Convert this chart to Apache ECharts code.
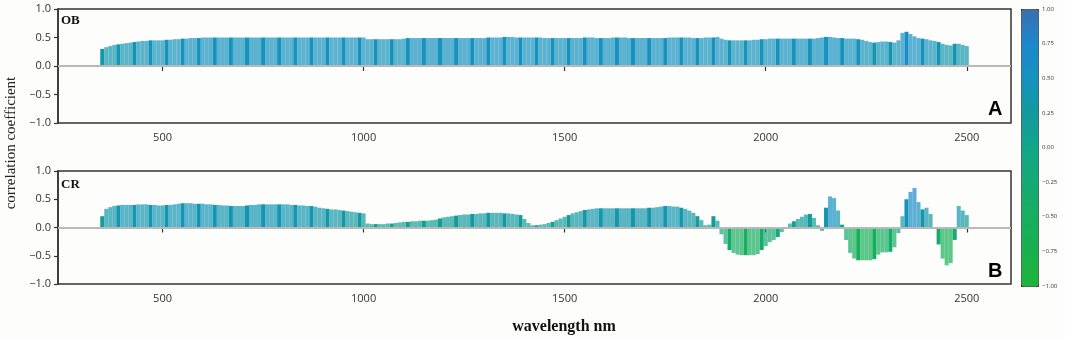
<!DOCTYPE html>
<html>
<head>
<meta charset="utf-8">
<script src="https://cdn.jsdelivr.net/npm/echarts@6/dist/echarts.min.js"></script>
<style>
  html, body { margin: 0; padding: 0; background: #fdfdfb; }
  #chart { width: 1065px; height: 340px; }
</style>
</head>
<body>
<div id="chart"></div>
<script>
// wavelength grid, 350 - 2500 nm every 10 nm
const wavelengths = []
for (let w = 350; w <= 2500; w += 10) wavelengths.push(w)

// original reflectance (OB)
const obValues = [
  0.30, 0.33, 0.35, 0.37, 0.38, 0.39, 0.40, 0.41, 0.42, 0.43, // 350
  0.44, 0.44, 0.45, 0.45, 0.45, 0.45, 0.46, 0.46, 0.47, 0.47, // 450
  0.48, 0.48, 0.49, 0.49, 0.49, 0.50, 0.50, 0.50, 0.50, 0.50, // 550
  0.50, 0.50, 0.50, 0.50, 0.50, 0.50, 0.50, 0.50, 0.50, 0.50, // 650
  0.50, 0.50, 0.50, 0.50, 0.50, 0.50, 0.50, 0.50, 0.50, 0.50, // 750
  0.50, 0.50, 0.50, 0.50, 0.50, 0.50, 0.50, 0.50, 0.50, 0.50, // 850
  0.50, 0.50, 0.50, 0.50, 0.50, 0.50, 0.47, 0.47, 0.47, 0.47, // 950
  0.47, 0.47, 0.47, 0.47, 0.47, 0.48, 0.49, 0.49, 0.49, 0.49, // 1050
  0.49, 0.49, 0.49, 0.49, 0.49, 0.49, 0.49, 0.49, 0.49, 0.49, // 1150
  0.49, 0.49, 0.49, 0.49, 0.49, 0.49, 0.50, 0.50, 0.50, 0.50, // 1250
  0.51, 0.51, 0.51, 0.50, 0.50, 0.50, 0.50, 0.50, 0.50, 0.50, // 1350
  0.49, 0.49, 0.49, 0.49, 0.49, 0.49, 0.49, 0.49, 0.49, 0.49, // 1450
  0.50, 0.50, 0.50, 0.49, 0.49, 0.49, 0.49, 0.50, 0.50, 0.50, // 1550
  0.50, 0.49, 0.49, 0.49, 0.49, 0.49, 0.49, 0.49, 0.49, 0.49, // 1650
  0.49, 0.50, 0.50, 0.50, 0.50, 0.50, 0.50, 0.49, 0.49, 0.49, // 1750
  0.50, 0.50, 0.50, 0.51, 0.48, 0.46, 0.45, 0.45, 0.45, 0.45, // 1850
  0.45, 0.45, 0.46, 0.46, 0.47, 0.47, 0.48, 0.48, 0.48, 0.48, // 1950
  0.48, 0.48, 0.48, 0.48, 0.48, 0.48, 0.48, 0.48, 0.49, 0.50, // 2050
  0.51, 0.51, 0.50, 0.49, 0.49, 0.48, 0.48, 0.48, 0.47, 0.46, // 2150
  0.44, 0.42, 0.41, 0.42, 0.43, 0.43, 0.42, 0.41, 0.45, 0.58, // 2250
  0.60, 0.56, 0.52, 0.49, 0.48, 0.47, 0.45, 0.44, 0.42, 0.39, // 2350
  0.37, 0.36, 0.39, 0.39, 0.37, 0.35                          // 2450
]

// continuum removed (CR)
const crValues = [
  0.20, 0.33, 0.36, 0.38, 0.39, 0.40, 0.40, 0.40, 0.40, 0.41, // 350
  0.41, 0.41, 0.40, 0.40, 0.39, 0.39, 0.40, 0.40, 0.41, 0.42, // 450
  0.43, 0.43, 0.43, 0.42, 0.42, 0.42, 0.41, 0.41, 0.40, 0.40, // 550
  0.39, 0.39, 0.38, 0.38, 0.38, 0.38, 0.39, 0.40, 0.40, 0.41, // 650
  0.41, 0.41, 0.41, 0.41, 0.41, 0.41, 0.41, 0.40, 0.40, 0.39, // 750
  0.39, 0.38, 0.38, 0.37, 0.35, 0.34, 0.33, 0.32, 0.32, 0.31, // 850
  0.30, 0.29, 0.28, 0.27, 0.26, 0.25, 0.07, 0.06, 0.06, 0.06, // 950
  0.06, 0.07, 0.07, 0.08, 0.09, 0.10, 0.10, 0.11, 0.11, 0.12, // 1050
  0.12, 0.12, 0.13, 0.14, 0.16, 0.18, 0.19, 0.20, 0.21, 0.22, // 1150
  0.23, 0.23, 0.24, 0.24, 0.25, 0.25, 0.26, 0.26, 0.26, 0.26, // 1250
  0.25, 0.25, 0.24, 0.23, 0.22, 0.15, 0.08, 0.04, 0.04, 0.05, // 1350
  0.06, 0.08, 0.10, 0.13, 0.16, 0.19, 0.22, 0.25, 0.27, 0.29, // 1450
  0.31, 0.32, 0.33, 0.34, 0.34, 0.34, 0.34, 0.34, 0.34, 0.34, // 1550
  0.34, 0.34, 0.34, 0.34, 0.34, 0.34, 0.35, 0.35, 0.36, 0.37, // 1650
  0.38, 0.38, 0.37, 0.37, 0.35, 0.33, 0.30, 0.26, 0.20, 0.13, // 1750
  0.04, 0.05, 0.20, 0.12, -0.12, -0.29, -0.40, -0.45, -0.48, -0.49, // 1850
  -0.49, -0.49, -0.49, -0.47, -0.40, -0.33, -0.26, -0.22, -0.17, -0.08, // 1950
  0.00, 0.07, 0.11, 0.15, 0.19, 0.23, 0.24, 0.17, 0.04, -0.06, // 2050
  0.35, 0.55, 0.52, 0.30, 0.05, -0.22, -0.45, -0.55, -0.58, -0.58, // 2150
  -0.58, -0.58, -0.56, -0.48, -0.44, -0.44, -0.43, -0.35, -0.10, 0.20, // 2250
  0.50, 0.63, 0.70, 0.45, 0.32, 0.35, 0.24, -0.02, -0.30, -0.55, // 2350
  -0.67, -0.63, -0.22, 0.38, 0.30, 0.22                        // 2450
]

const xTicks = [500, 1000, 1500, 2000, 2500]

const minus = s => s.replace('-', '\u2212')

// every 4th bar is drawn solid, the rest lighter, like the striped original
function toBars(values) {
  return values.map((v, i) => ({
    value: [wavelengths[i], v],
    itemStyle: { opacity: i % 4 === 0 ? 1 : 0.7 }
  }))
}

const chart = echarts.init(document.getElementById('chart'))

const tickFont = { fontFamily: 'Open Sans', fontSize: 11, color: '#333' }

function xAxisFor(gridIndex) {
  return {
    type: 'value',
    gridIndex: gridIndex,
    min: 240,
    max: 2610,
    axisLine: { show: true, lineStyle: { color: '#333', width: 1.5 } },
    axisTick: { show: true, length: 5, customValues: xTicks, lineStyle: { color: '#333', width: 1.2 } },
    axisLabel: Object.assign({ customValues: xTicks, margin: 9, formatter: v => String(v) }, tickFont),
    splitLine: { show: false }
  }
}

function yAxisFor(gridIndex) {
  return {
    type: 'value',
    gridIndex: gridIndex,
    min: -1,
    max: 1,
    interval: 0.5,
    axisLine: { show: true, lineStyle: { color: '#333', width: 1.5 } },
    axisTick: { show: true, length: 4, lineStyle: { color: '#333', width: 1.2 } },
    axisLabel: Object.assign({ margin: 7, formatter: v => minus(v.toFixed(1)) }, tickFont),
    splitLine: { show: false }
  }
}

function barSeries(name, values, axisIndex) {
  return {
    name: name,
    type: 'bar',
    xAxisIndex: axisIndex,
    yAxisIndex: axisIndex,
    barWidth: 4,
    data: toBars(values),
    animation: false,
    markLine: {
      silent: true,
      symbol: 'none',
      label: { show: false },
      lineStyle: { color: '#b9b9b9', width: 2, type: 'solid' },
      data: [{ yAxis: 0 }]
    }
  }
}

chart.setOption({
  backgroundColor: '#fdfdfb',
  grid: [
    { left: 58, top: 9, width: 953, height: 114, show: true, borderColor: '#333', borderWidth: 1.5 },
    { left: 58, top: 171, width: 953, height: 113, show: true, borderColor: '#333', borderWidth: 1.5 },
    // holds the colour bar scale
    { left: 1021, top: 9, width: 17, height: 277, show: false }
  ],
  xAxis: [
    xAxisFor(0),
    xAxisFor(1),
    { type: 'value', gridIndex: 2, show: false, min: 0, max: 1 }
  ],
  yAxis: [
    yAxisFor(0),
    yAxisFor(1),
    {
      type: 'value',
      gridIndex: 2,
      position: 'right',
      min: -1,
      max: 1,
      interval: 0.25,
      axisLine: { show: false },
      axisTick: { show: true, length: 3, lineStyle: { color: '#333' } },
      axisLabel: {
        fontFamily: 'Open Sans', fontSize: 6, color: '#333', margin: 4,
        formatter: v => minus(v.toFixed(2))
      },
      splitLine: { show: false }
    }
  ],
  visualMap: {
    type: 'continuous',
    seriesIndex: [0, 1],
    dimension: 1,
    min: -1,
    max: 1,
    left: 1021,
    top: 9,
    itemWidth: 17,
    itemHeight: 277,
    padding: 0,
    borderColor: '#333',
    borderWidth: 1,
    calculable: false,
    text: ['', ''],
    inRange: {
      color: ['#1db33a', '#19b04d', '#17ae60', '#15aa74', '#12a68a', '#13999f', '#1592bf', '#1c88cc', '#3a6fb0']
    }
  },
  series: [
    barSeries('OB', obValues, 0),
    barSeries('CR', crValues, 1)
  ],
  graphic: [
    { type: 'text', left: 61, top: 14, style: { text: 'OB', font: 'bold 13px "Liberation Serif"', fill: '#111' } },
    { type: 'text', left: 61, top: 178, style: { text: 'CR', font: 'bold 13px "Liberation Serif"', fill: '#111' } },
    { type: 'text', left: 988, top: 99, style: { text: 'A', font: 'bold 20px "Liberation Sans"', fill: '#000' } },
    { type: 'text', left: 988, top: 261, style: { text: 'B', font: 'bold 20px "Liberation Sans"', fill: '#000' } },
    {
      type: 'text', x: 11, y: 143, rotation: Math.PI / 2,
      style: { text: 'correlation coefficient', font: '15px "Liberation Serif"', fill: '#222', textAlign: 'center', textVerticalAlign: 'middle' }
    },
    {
      type: 'text', x: 564, y: 327,
      style: { text: 'wavelength nm', font: 'bold 16px "Liberation Serif"', fill: '#111', textAlign: 'center', textVerticalAlign: 'middle' }
    }
  ]
})
</script>
</body>
</html>
